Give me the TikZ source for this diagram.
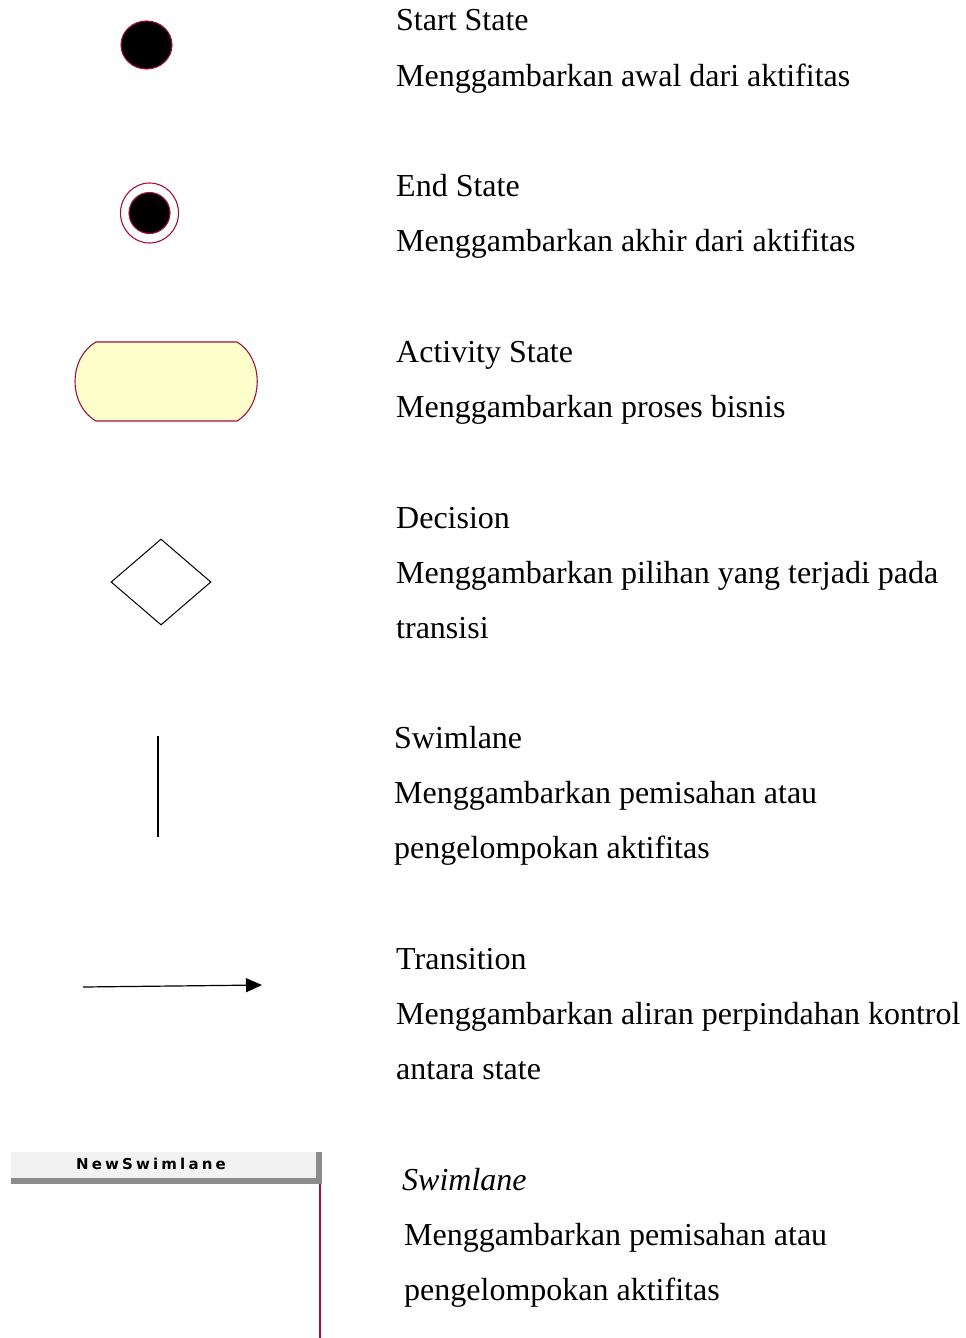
\documentclass[tikz,border=0pt]{standalone}
\usepackage{fontspec}
\setmainfont{Liberation Serif}
\newfontfamily\lanefont{DejaVu Sans}
\usetikzlibrary{arrows.meta,shapes.geometric}
\definecolor{umlred}{HTML}{A0103C}
\definecolor{umlfill}{HTML}{FFFFCC}
\definecolor{laneback}{HTML}{F2F2F2}
\definecolor{lanegray}{HTML}{8C8C8C}
\begin{document}
\begin{tikzpicture}[x=1pt,y=-1pt,
  desc/.style={anchor=base west,inner sep=0pt,font=\fontsize{32}{32}\selectfont},
  redline/.style={draw=umlred,line width=1.1pt}]
\useasboundingbox (0,0) rectangle (966,1338);

% start state
\node[redline,fill=black,ellipse,minimum width=51,minimum height=48,inner sep=0pt] (start) at (146.5,45) {};
% end state
\node[redline,fill=white,ellipse,minimum width=58,minimum height=60,inner sep=0pt] (endo) at (149.5,213) {};
\node[redline,fill=black,circle,minimum size=41,inner sep=0pt] (endi) at (149.5,213) {};

% activity state
\draw[redline,fill=umlfill] (96,342) -- (237,342)
  .. controls (264,358) and (264,405) .. (237,421) -- (96,421)
  .. controls (68,405) and (68,358) .. (96,342) -- cycle;

% decision
\node[draw=black,line width=1pt,diamond,minimum width=100,minimum height=86,inner sep=0pt] (dec) at (161,582) {};

% swimlane divider
\coordinate (lt) at (158,736);
\coordinate (lb) at (158,837);
\draw[line width=1.2pt] (lt) -- (lb);

% transition
\coordinate (ta) at (83,987);
\coordinate (tb) at (262,985);
\draw[line width=1.2pt,-{Triangle[length=16,width=14]}] (ta) -- (tb);

% swimlane header
\fill[laneback] (11,1152) rectangle (320,1179);
\fill[lanegray] (11,1178) rectangle (322,1184);
\fill[lanegray] (316,1152) rectangle (322,1184);
\node[inner sep=0pt,font=\lanefont\bfseries\fontsize{15}{15}\selectfont] (lanename) at (151,1164) {\addfontfeature{LetterSpace=21}NewSwimlane};
\coordinate (ra) at (320,1184);
\coordinate (rb) at (320,1338);
\draw[umlred,line width=2pt] (ra) -- (rb);

% descriptions
\node[desc] (t1a) at (396,31) {Start State};
\node[desc] (t1b) at (396,86) {Menggambarkan awal dari aktifitas};
\node[desc] (t2a) at (396,196) {End State};
\node[desc] (t2b) at (396,251) {Menggambarkan akhir dari aktifitas};
\node[desc] (t3a) at (396,362) {Activity State};
\node[desc] (t3b) at (396,417) {Menggambarkan proses bisnis};
\node[desc] (t4a) at (396,528) {Decision};
\node[desc] (t4b) at (396,583) {Menggambarkan pilihan yang terjadi pada};
\node[desc] (t4c) at (396,638) {transisi};
\node[desc] (t5a) at (394,748) {Swimlane};
\node[desc] (t5b) at (394,803) {Menggambarkan pemisahan atau};
\node[desc] (t5c) at (394,858) {pengelompokan aktifitas};
\node[desc] (t6a) at (396,969) {Transition};
\node[desc] (t6b) at (396,1024) {Menggambarkan aliran perpindahan kontrol};
\node[desc] (t6c) at (396,1079) {antara state};
\node[desc,font=\fontsize{32}{32}\selectfont\itshape] (t7a) at (402,1190) {Swimlane};
\node[desc] (t7b) at (404,1245) {Menggambarkan pemisahan atau};
\node[desc] (t7c) at (404,1300) {pengelompokan aktifitas};
\end{tikzpicture}
\end{document}
